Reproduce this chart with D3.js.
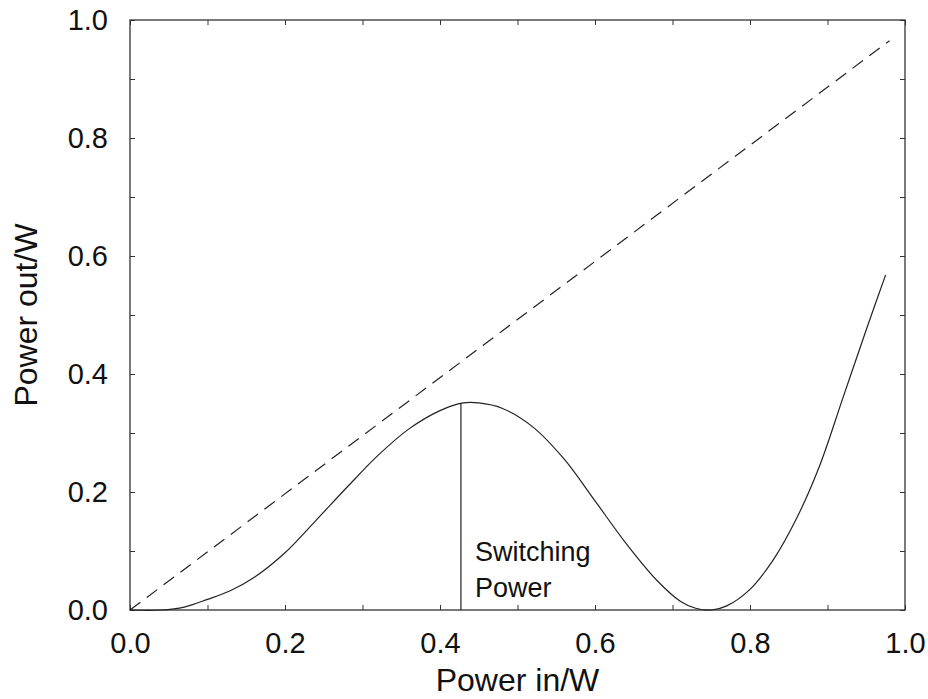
<!DOCTYPE html>
<head>
    <meta charset="utf-8">
    <style>
        body { margin: 0; background: #fff; font-family: "Liberation Sans", Arial, sans-serif; }
        .axis text { font-size: 29px; fill: #111; }
        .axis line { stroke: #333; }
    </style>
    <title>Power out vs power in</title>
</head>
<body>
    <script src="https://d3js.org/d3.v7.min.js"></script>
    <div id="my_dataviz"></div>
    <script>
        // values
        var powerIn  = [0, 0.04, 0.07, 0.1, 0.13, 0.16, 0.2, 0.24, 0.28, 0.32, 0.36, 0.40, 0.43, 0.45, 0.48, 0.52, 0.56, 0.60, 0.64, 0.68, 0.71, 0.73, 0.75, 0.77, 0.80, 0.83, 0.86, 0.89, 0.92, 0.95, 0.975];
        var powerOut = [0, 0, 0.005, 0.018, 0.033, 0.055, 0.097, 0.152, 0.208, 0.262, 0.307, 0.338, 0.351, 0.351, 0.342, 0.31, 0.256, 0.185, 0.113, 0.05, 0.015, 0.003, 0, 0.007, 0.035, 0.085, 0.155, 0.245, 0.36, 0.475, 0.568];
        var refIn  = [0, 0.98];
        var refOut = [0, 0.965];
        var switchIn = 0.427, switchOut = 0.351;
        var tickValues = [0, 0.1, 0.2, 0.3, 0.4, 0.5, 0.6, 0.7, 0.8, 0.9, 1.0];
        var labelledTicks = ["0.0", "0.2", "0.4", "0.6", "0.8", "1.0"];
        var switchLabel = ["Switching", "Power"];

        var margin = {top: 20, right: 23, bottom: 89, left: 130},
            width = 928 - margin.left - margin.right,
            height = 699 - margin.top - margin.bottom;

        var svg = d3.select("#my_dataviz")
            .append("svg")
            .attr("width", 928)
            .attr("height", 699)
            .append("g")
            .attr("transform", "translate(" + margin.left + "," + margin.top + ")");

        var x = d3.scaleLinear().domain([0, 1]).range([0, width]);
        var y = d3.scaleLinear().domain([0, 1]).range([height, 0]);

        var fmt = function(d) {
            var s = d3.format(".1f")(d);
            return labelledTicks.indexOf(s) >= 0 ? s : "";
        };

        // ticks on all four sides, pointing inward
        svg.append("g").attr("class", "axis")
            .attr("transform", "translate(0," + height + ")")
            .call(d3.axisBottom(x).tickValues(tickValues).tickSizeInner(-5).tickSizeOuter(0).tickPadding(22).tickFormat(fmt));
        svg.append("g").attr("class", "axis")
            .call(d3.axisLeft(y).tickValues(tickValues).tickSizeInner(-5).tickSizeOuter(0).tickPadding(22).tickFormat(fmt));
        svg.append("g").attr("class", "axis")
            .call(d3.axisTop(x).tickValues(tickValues).tickSizeInner(-5).tickSizeOuter(0).tickFormat(""));
        svg.append("g").attr("class", "axis")
            .attr("transform", "translate(" + width + ",0)")
            .call(d3.axisRight(y).tickValues(tickValues).tickSizeInner(-5).tickSizeOuter(0).tickFormat(""));
        svg.selectAll(".axis .domain").remove();

        // frame
        svg.append("rect")
            .attr("width", width)
            .attr("height", height)
            .attr("fill", "none")
            .attr("stroke", "#333")
            .attr("stroke-width", 1.3);

        var line = d3.line()
            .x(function(d) { return x(d[0]); })
            .y(function(d) { return y(d[1]); });

        // dashed reference line
        svg.append("path")
            .datum(d3.zip(refIn, refOut))
            .attr("d", line)
            .attr("fill", "none")
            .attr("stroke", "#222")
            .attr("stroke-width", 1.2)
            .attr("stroke-dasharray", "13,8");

        // transmitted power
        svg.append("path")
            .datum(d3.zip(powerIn, powerOut))
            .attr("d", line.curve(d3.curveCatmullRom.alpha(0.5)))
            .attr("fill", "none")
            .attr("stroke", "#222")
            .attr("stroke-width", 1.2);

        // switching power marker
        svg.append("line")
            .attr("x1", x(switchIn)).attr("x2", x(switchIn))
            .attr("y1", y(0)).attr("y2", y(switchOut))
            .attr("stroke", "#222")
            .attr("stroke-width", 1.2);

        svg.selectAll(".switchLabel")
            .data(switchLabel)
            .enter()
            .append("text")
            .attr("class", "switchLabel")
            .attr("x", x(switchIn) + 14)
            .attr("y", function(d, i) { return y(0.083) + i * 36; })
            .attr("font-size", "27px")
            .attr("fill", "#111")
            .text(function(d) { return d; });

        // axis titles
        svg.append("text")
            .attr("x", width / 2)
            .attr("y", height + 81)
            .attr("text-anchor", "middle")
            .attr("font-size", "32px")
            .attr("fill", "#111")
            .text("Power in/W");

        svg.append("text")
            .attr("transform", "rotate(-90)")
            .attr("x", -height / 2)
            .attr("y", -93)
            .attr("text-anchor", "middle")
            .attr("font-size", "32px")
            .attr("fill", "#111")
            .text("Power out/W");
    </script>
</body>
